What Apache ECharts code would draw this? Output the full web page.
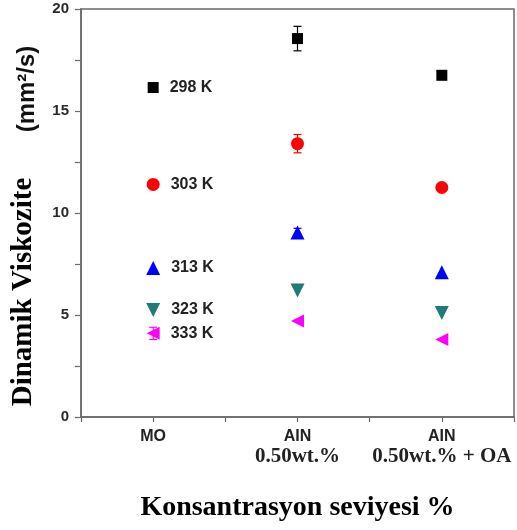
<!DOCTYPE html>
<html><head><meta charset="utf-8">
<script src="https://cdn.jsdelivr.net/npm/echarts@6/dist/echarts.min.js"></script>
<style>html,body{margin:0;padding:0;background:#fff}#c{width:517px;height:530px}</style>
</head><body><div id="c"></div>
<script>
var catTop = ['MO', 'AIN', 'AIN'];
var catBottom = ['', '0.50wt.%', '0.50wt.% + OA'];
var seriesNames = ['298 K', '303 K', '313 K', '323 K', '333 K'];
var v298 = [16.15, 18.55, 16.75];
var v303 = [11.4, 13.4, 11.25];
var v313 = [7.3, 9.05, 7.1];
var v323 = [5.25, 6.2, 5.1];
var v333 = [4.1, 4.7, 3.8];
var e298 = [0, 0.6, 0];
var e303 = [0, 0.45, 0];
var e313 = [0, 0.2, 0];
var e323 = [0, 0, 0];
var e333 = [0.3, 0, 0];
var yTicks = [0, 5, 10, 15, 20];

var values = [v298, v303, v313, v323, v333];
var errs = [e298, e303, e313, e323, e333];
var colors = ['#000000', '#ff0000', '#0000ff', '#1f7b78', '#ff00ff'];
var symbols = ['rect', 'circle', 'triangle', 'triangle', 'triangle'];
var rotates = [0, 0, 0, 180, 90];
var sizes = [11, 13, 14, 14, 13];

var chart = echarts.init(document.getElementById('c'));
var series = [];
values.forEach(function (vals, s) {
  series.push({
    name: seriesNames[s], type: 'scatter', symbol: symbols[s], symbolRotate: rotates[s],
    symbolSize: sizes[s], itemStyle: { color: colors[s], opacity: 1 }, z: 3,
    label: { show: false, position: 'right', distance: 11, formatter: seriesNames[s],
      fontFamily: 'Liberation Sans', fontWeight: 'bold', fontSize: 16, color: '#222' },
    data: vals.map(function (v, i) { return { value: [i + 1, v], label: { show: i === 0 } }; })
  });
  series.push({
    type: 'custom', z: 2, silent: true,
    data: vals.map(function (v, i) { return [i + 1, v - errs[s][i], v + errs[s][i]]; }).filter(function (d) { return d[2] > d[1]; }),
    renderItem: function (params, api) {
      var lo = api.coord([api.value(0), api.value(1)]);
      var hi = api.coord([api.value(0), api.value(2)]);
      var w = 4;
      var st = { stroke: colors[s], lineWidth: 1.2 };
      return { type: 'group', children: [
        { type: 'line', shape: { x1: lo[0], y1: lo[1], x2: hi[0], y2: hi[1] }, style: st },
        { type: 'line', shape: { x1: lo[0] - w, y1: lo[1], x2: lo[0] + w, y2: lo[1] }, style: st },
        { type: 'line', shape: { x1: hi[0] - w, y1: hi[1], x2: hi[0] + w, y2: hi[1] }, style: st }
      ]};
    }
  });
});

var axisColor = '#6a6a6a';
chart.setOption({
  animation: false,
  grid: { left: 81, right: 1, top: 9, bottom: 113, show: true, borderColor: axisColor, borderWidth: 1.5 },
  xAxis: {
    type: 'value', min: 0.5, max: 3.5, interval: 0.5,
    splitLine: { show: false },
    axisLine: { lineStyle: { color: axisColor, width: 1.5 } },
    axisTick: { length: 5, lineStyle: { color: axisColor, width: 1.2 } },
    axisLabel: {
      margin: 10, interval: 0, showMinLabel: true, showMaxLabel: true,
      formatter: function (v) {
        var i = Math.round(v) - 1;
        if (Math.abs(v - Math.round(v)) > 1e-6 || i < 0 || i > 2) return '';
        return '{a|' + catTop[i] + '}' + (catBottom[i] ? '\n{b|' + catBottom[i] + '}' : '');
      },
      rich: {
        a: { fontFamily: 'Liberation Sans', fontWeight: 'bold', fontSize: 16, color: '#222', lineHeight: 20 },
        b: { fontFamily: 'Liberation Serif', fontWeight: 'bold', fontSize: 21, color: '#222', lineHeight: 20 }
      }
    },
    name: 'Konsantrasyon seviyesi %', nameLocation: 'middle', nameGap: 77,
    nameTextStyle: { fontFamily: 'Liberation Serif', fontWeight: 'bold', fontSize: 28, color: '#000' }
  },
  yAxis: {
    type: 'value', min: 0, max: 20, interval: 2.5,
    splitLine: { show: false },
    axisLine: { show: true, lineStyle: { color: axisColor, width: 1.5 } },
    axisTick: { show: true, length: 6, lineStyle: { color: axisColor, width: 1.2 } },
    axisLabel: {
      margin: 12, fontFamily: 'Liberation Sans', fontWeight: 'bold', fontSize: 15, color: '#2a2a2a',
      formatter: function (v) { return yTicks.indexOf(v) >= 0 ? String(v) : ''; }
    }
  },
  graphic: [
    { type: 'text', x: 24, y: 292, rotation: Math.PI / 2,
      style: { text: 'Dinamik Viskozite', font: 'bold 29px "Liberation Serif"', fill: '#000', align: 'center', verticalAlign: 'middle' } },
    { type: 'text', x: 27, y: 89, rotation: Math.PI / 2,
      style: { text: '(mm\u00b2/s)', font: 'bold 24px "Liberation Sans"', fill: '#111', align: 'center', verticalAlign: 'middle' } }
  ],
  series: series
});
</script></body></html>
